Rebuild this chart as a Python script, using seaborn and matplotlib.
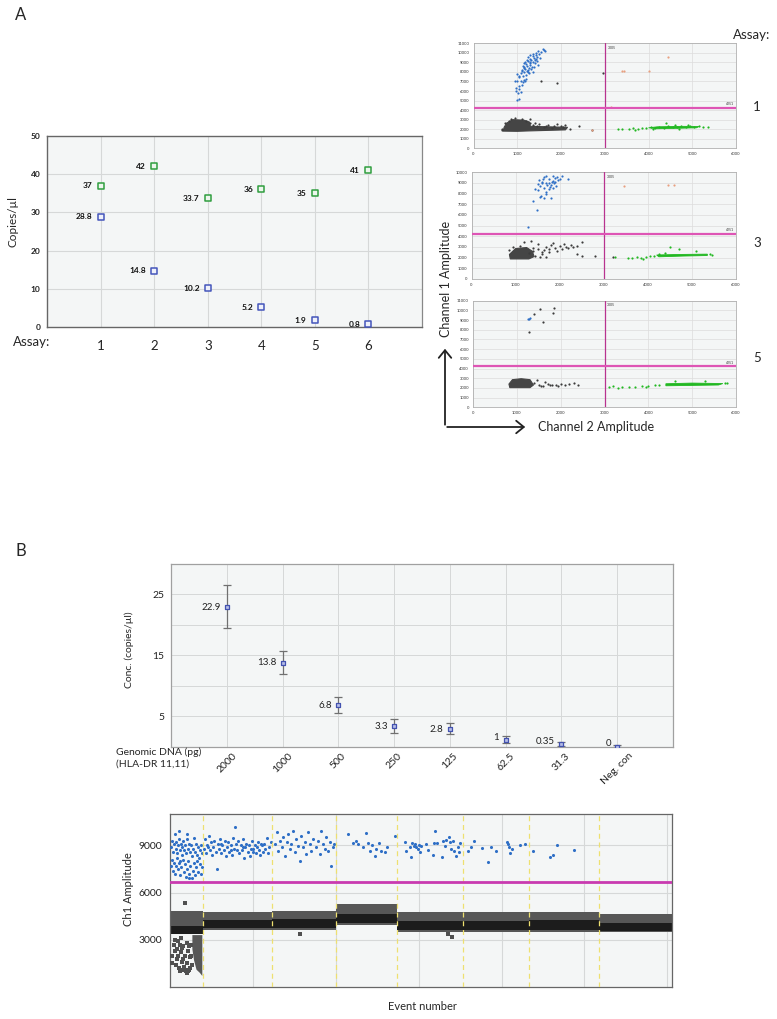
import numpy as np
import matplotlib
matplotlib.use("Agg")
import matplotlib.pyplot as plt
import seaborn as sns
from matplotlib import font_manager
from matplotlib.patches import FancyArrowPatch

W, H = 777, 1019

# ---------------- Panel A (left): copies per assay ----------------
assays = [1, 2, 3, 4, 5, 6]
ref_copies = [37, 42, 33.7, 36, 35, 41]
hla_copies = [28.8, 14.8, 10.2, 5.2, 1.9, 0.8]
ref_text = ["37", "42", "33.7", "36", "35", "41"]
hla_text = ["28.8", "14.8", "10.2", "5.2", "1.9", "0.8"]

# ---------------- Panel A (right): 2D droplet plots ----------------
a1_blue_ch2 = [1000, 1050, 1020, 1080, 980, 1050, 1100, 1000, 1080, 1150, 1030, 1120, 1200, 1080, 1150, 1230,
               1100, 1180, 1260, 1150, 1220, 1300, 1200, 1280, 1350, 1250, 1320, 1400, 1300, 1380, 1450, 1350,
               1430, 1500, 1420, 1550, 1600, 1480, 1250, 1180, 1320, 1200, 1120, 1260, 1400, 1150, 1050, 1350,
               1240, 1300, 950, 1000, 1120, 1300, 1380, 1450, 1520, 1580, 1640, 1180, 1050, 960, 1360, 1470,
               1250, 1330, 1150, 1420, 1220, 1100]
a1_blue_ch1 = [5100, 5200, 5800, 5900, 6300, 6500, 6600, 7000, 7100, 7200, 7500, 7600, 7700, 7900, 8000, 8100,
               8200, 8300, 8400, 8500, 8600, 8700, 8800, 8900, 9000, 9100, 9200, 9300, 9400, 9500, 9600, 9700,
               9800, 9900, 10000, 10100, 10300, 10200, 9600, 9000, 8300, 7300, 6900, 7900, 8900, 8900, 7600, 9900,
               8200, 9800, 7100, 7800, 8600, 9000, 8500, 9100, 9500, 10400, 10200, 7000, 6200, 6000, 8000, 8700,
               8000, 8500, 8400, 9400, 9300, 8100]
a1_core_ch2 = [680, 1000, 1250, 2100, 2150, 1300, 1280, 1150, 900, 760, 700]
a1_core_ch1 = [1800, 1780, 1820, 1930, 2200, 2300, 2750, 2950, 3000, 2650, 2200]
a1_gray_ch2 = [1500, 1700, 1900, 2100, 2400, 2700, 1400, 1600, 1800, 2000, 2200, 1550, 1900, 2950, 660, 1300,
               650, 720, 800, 950, 1100, 1300, 1350, 850, 1200, 1450, 1650, 1850, 2050]
a1_gray_ch1 = [2500, 2400, 2500, 2450, 2300, 1950, 2700, 2200, 2100, 2300, 2050, 7000, 6800, 7900, 2050, 3100,
               1950, 2700, 2900, 3150, 3050, 2600, 2450, 3100, 2900, 2350, 2300, 2350, 2250]
a1_gcore_ch2 = [4200, 4700, 5100, 5150, 4800, 4200, 4000]
a1_gcore_ch1 = [2050, 2100, 2150, 2280, 2300, 2250, 2150]
a1_green_ch2 = [3300, 3400, 3550, 3650, 3750, 3850, 3950, 4050, 4150, 4250, 4350, 4450, 4550, 4650, 4750, 4850,
                4950, 5050, 5150, 5250, 5350, 4400, 4600, 4700, 3700, 4100, 4900]
a1_green_ch1 = [2000, 2050, 2000, 2100, 2050, 2150, 2100, 2200, 2100, 2250, 2150, 2300, 2200, 2250, 2300, 2200,
                2300, 2250, 2300, 2250, 2250, 2700, 2400, 2000, 1950, 2000, 2400]
a1_odd_ch2 = [3400, 3450, 4000, 4450, 2700, 3150]
a1_odd_ch1 = [8150, 8150, 8100, 9600, 1900, 4300]

a3_blue_ch2 = [1500, 1550, 1600, 1650, 1700, 1750, 1800, 1850, 1900, 1950, 2000, 1580, 1680, 1780, 1880, 1620,
               1720, 1820, 1920, 1520, 1640, 1760, 1860, 1960, 1700, 1800, 1450, 1550, 1650, 1750, 1850, 1700,
               1900, 2050, 1600, 1400, 1500, 2185, 1492, 1281]
a3_blue_ch1 = [8300, 8700, 9100, 8500, 9000, 9400, 8800, 9200, 9500, 9600, 9400, 7800, 8200, 8600, 9000, 9400,
               8800, 9100, 8700, 9300, 9600, 8400, 8500, 9300, 9700, 7600, 8400, 7700, 7600, 9000, 9700, 8000,
               9100, 9700, 9000, 7300, 8900, 9375, 6470, 4906]
a3_core_ch2 = [880, 1300, 1420, 1380, 1250, 1000, 860]
a3_core_ch1 = [1880, 1880, 2100, 2600, 2950, 2850, 2300]
a3_gray_ch2 = [1300, 1400, 1500, 1600, 1700, 1800, 1900, 2000, 2100, 2200, 2300, 2400, 2500, 1500, 1650, 1750,
               1850, 1950, 2050, 2150, 2250, 1550, 1450, 1700, 2400, 2500, 2800, 3200, 1200, 1350, 850, 950,
               1100, 1400, 1600, 1750]
a3_gray_ch1 = [2400, 2600, 2800, 2300, 3000, 3200, 2900, 3100, 3300, 2900, 3000, 3100, 3500, 3300, 2700, 2500,
               3400, 2600, 2800, 3000, 3200, 2100, 2200, 2100, 2300, 2200, 2200, 2100, 3500, 3600, 2700, 3000,
               3100, 2900, 2500, 2800]
a3_gcore_ch2 = [4250, 4800, 5350, 5350, 4700, 4200]
a3_gcore_ch1 = [2080, 2150, 2200, 2330, 2300, 2250]
a3_green_ch2 = [3250, 3550, 3650, 3750, 3850, 3950, 4050, 4150, 4250, 3900, 4500, 4700, 5100, 5400, 5450, 4400]
a3_green_ch1 = [2100, 2000, 1950, 2050, 2000, 2100, 2150, 2200, 2300, 1900, 3000, 2800, 2600, 2300, 2250, 2400]
a3_odd_ch2 = [3450, 4450, 4600]
a3_odd_ch1 = [8750, 8850, 8850]

a5_blue_ch2 = [1250, 1290, 1270]
a5_blue_ch1 = [9150, 9200, 9100]
a5_core_ch2 = [840, 1300, 1380, 1300, 1100, 900, 820]
a5_core_ch1 = [2030, 2030, 2300, 2850, 2950, 2850, 2400]
a5_gray_ch2 = [1400, 1500, 1600, 1700, 1800, 1900, 2000, 2100, 2200, 2400, 1450, 1650, 1550, 1750, 1950, 2300,
               1394, 1530, 1606, 1833, 1848, 1288]
a5_gray_ch1 = [2500, 2300, 2200, 2400, 2300, 2350, 2400, 2300, 2450, 2350, 2800, 2600, 2150, 2250, 2200, 2500,
               9625, 10106, 8834, 9762, 10209, 7803]
a5_gcore_ch2 = [4400, 5000, 5600, 5700, 5000, 4400]
a5_gcore_ch1 = [2220, 2260, 2300, 2450, 2500, 2430]
a5_green_ch2 = [3100, 3200, 3400, 3550, 3700, 3850, 4000, 4150, 4250, 4600, 5300, 5800, 5750, 3300, 3950]
a5_green_ch1 = [2100, 2150, 2050, 2100, 2100, 2200, 2150, 2250, 2300, 2700, 2700, 2500, 2550, 2000, 2050]

# ---------------- Panel B (top): dilution series ----------------
dna_labels = ["2000", "1000", "500", "250", "125", "62.5", "31.3", "Neg. con"]
conc = [22.9, 13.8, 6.8, 3.3, 2.8, 1.0, 0.35, 0.0]
conc_lo = [19.4, 11.9, 5.5, 2.3, 2.0, 0.5, 0.1, 0.0]
conc_hi = [26.5, 15.7, 8.2, 4.5, 3.8, 1.7, 0.7, 0.25]
conc_text = ["22.9", "13.8", "6.8", "3.3", "2.8", "1", "0.35", "0"]

# ---------------- Panel B (bottom): 1D amplitude vs event ----------------
well_edges = [0, 2000, 6150, 10030, 13700, 17700, 21650, 25850, 30265]
band_lo = [3350, 3650, 3650, 3950, 3480, 3520, 3520, 3480]
band_hi = [4850, 4750, 4850, 5280, 4750, 4750, 4800, 4650]
core_lo = [3380, 3750, 3750, 4050, 3600, 3650, 3650, 3580]
core_hi = [3850, 4250, 4350, 4650, 4200, 4200, 4250, 4100]
tail_ev = [1350, 1950, 1950, 1800, 1600, 1450, 1350]
tail_amp = [3300, 3300, 700, 900, 1100, 1700, 2400]
low_ev = [100, 150, 250, 300, 400, 500, 550, 600, 650, 700, 750, 800, 850, 900, 950, 1000, 1050, 1100, 1150,
          1200, 1250, 1300, 1100, 900, 700, 450, 350, 600, 900, 7850, 16800, 17000, 1000, 1200, 800, 500,
          300, 1250, 1150, 650]
low_amp = [2000, 1500, 2700, 2300, 1800, 2900, 1200, 1000, 2200, 1600, 1100, 2600, 1300, 2000, 1000, 2800, 1500,
           2300, 1100, 1900, 2700, 1400, 1000, 1100, 2500, 2400, 1400, 2700, 5330, 3350, 3350, 3200, 900,
           1200, 1800, 2000, 3000, 2000, 2600, 3100]
pos_ev = [60, 120, 180, 230, 290, 340, 390, 440, 500, 550, 600, 640, 700, 750, 800, 850, 900, 960, 1010, 1060,
          1120, 1180, 1240, 1300, 1360, 1420, 1480, 1540, 1600, 1660, 1720, 1790, 1850, 1910, 520, 1000,
          80, 150, 210, 270, 330, 390, 450, 510, 570, 630, 690, 760, 820, 880, 950, 1020, 1090, 1160, 1230,
          1300, 1370, 1440, 1500, 1570, 1640, 1710, 1780, 1850, 1920, 1150, 600,
          2050, 2120, 2200, 2260, 2330, 2400, 2470, 2540, 2600, 2680, 2750, 2811, 2880, 2950, 3020, 3090, 3160,
          3230, 3300, 3370, 3440, 3510, 3580, 3650, 3720, 3790, 3860, 3916, 3980, 4050, 4120, 4190, 4260, 4330,
          4400, 4470, 4540, 4610, 4680, 4750, 4820, 4890, 4960, 5030, 5100, 5170, 5240, 5310, 5380, 5450, 5520,
          5600, 5680, 5760, 5840, 5920, 6000, 6080, 2300, 3100, 3700, 4400, 5000, 5500,
          6325, 6426, 6526, 6626, 6727, 6827, 6928, 7028, 7128, 7229, 7329, 7430, 7530, 7630, 7731, 7831, 7891,
          8032, 8132, 8233, 8333, 8434, 8534, 8634, 8795, 8936, 9036, 9136, 9237, 9337, 9438, 9538, 9638, 9739,
          9839, 9920,
          10743, 11044, 11205, 11345, 11646, 11847, 11948, 12088, 12208, 12349, 12450, 12610, 12751, 12952,
          13092, 13554,
          14156, 14257, 14458, 14558, 14618, 14698, 14759, 14859, 14960, 15020, 15100, 15160, 15462, 15562,
          15863, 15923, 16004, 16104, 16425, 16466, 16566, 16666, 16827, 16867, 16968, 17068, 17108, 17269,
          17369, 17429, 17510,
          17972, 18132, 18313, 18835, 19176, 19337, 19678, 20321, 20381, 20441, 20521, 20642, 21124, 21445,
          21887, 22951, 23092, 23333, 24397]
pos_amp = [8900, 9300, 8600, 9100, 9700, 8800, 9200, 8500, 9000, 9400, 8700, 9100, 8400, 8900, 9300, 8700, 9000,
           8500, 9400, 8800, 9100, 8600, 9000, 8300, 8800, 9500, 8600, 9100, 8400, 8900, 8200, 8700, 9000, 8500,
           9900, 9700,
           7700, 8100, 7400, 7900, 7200, 7700, 8200, 7500, 7900, 7100, 7600, 8100, 7300, 7800, 7000, 7500, 8000,
           7200, 7700, 6900, 7400, 7900, 7100, 7600, 8000, 7300, 7800, 7200, 7600, 6900, 8000,
           8800, 9400, 8500, 9000, 9600, 8700, 9200, 8400, 8900, 9300, 8600, 7500, 9100, 8800, 9400, 8500, 9000,
           8700, 9300, 8300, 8900, 9200, 8600, 9000, 8400, 9500, 8800, 10200, 9100, 8700, 9300, 8500, 9000, 8700,
           9400, 8200, 8900, 9100, 8600, 9000, 8300, 8800, 9300, 8600, 9000, 8500, 8900, 9200, 8700, 8400, 9000,
           8600, 9100, 8800, 9500, 8500, 8900, 9200, 8900, 9100, 8700, 8900, 8800, 9100,
           9101, 9843, 8677, 9313, 8889, 9525, 8359, 9207, 9737, 8783, 9101, 9949, 8571, 9419, 8995, 8042, 9631,
           8889, 9207, 8465, 9843, 9101, 8677, 9419, 8931, 9313, 8465, 9949, 9101, 8783, 9525, 8677, 9207, 7724,
           8889, 9101,
           9737, 9143, 9270, 9101, 8889, 9801, 9143, 8677, 9037, 8359, 8783, 9143, 8677, 8571, 8889, 9631,
           9207, 8677, 8889, 8253, 9143, 8995, 9101, 8889, 8783, 9059, 8571, 8995, 9101, 8720, 8423, 9143,
           9949, 9143, 8253, 9313, 8995, 9355, 9525, 9207, 8783, 9313, 8677, 8359, 8889, 8571, 9165,
           8677, 8889, 9270, 8825, 7978, 8931, 8635, 9207, 9101, 8889, 8508, 8762, 9059, 9101,
           8677, 8296, 8402, 9037, 8720]
well_breaks = [2000, 6150, 10030, 13700, 17700, 21650, 25850]
threshold_1d = 6650

# ---------------- fonts ----------------
sns.set_style("white")
names = {f.name for f in font_manager.fontManager.ttflist}
MAIN = "Lato" if "Lato" in names else "DejaVu Sans"
NARROW = "Liberation Sans Narrow" if "Liberation Sans Narrow" in names else MAIN
plt.rcParams["font.family"] = [MAIN, "DejaVu Sans"]
plt.rcParams["axes.unicode_minus"] = False

BG = "#f4f6f6"
GRID = "#d6d8d8"
BLUE_D = "#2f6fc6"
GREEN_D = "#22b822"
GRAY_D = "#3c3c3c"


def rect(l, t, r, b):
    return [l / W, 1 - b / H, (r - l) / W, (b - t) / H]


def fx(x):
    return x / W


def fy(y):
    return 1 - y / H


fig = plt.figure(figsize=(W / 100, H / 100), dpi=100)
fig.patch.set_facecolor("white")

# ================= Panel A left =================
axA = fig.add_axes(rect(47.3, 135.7, 422, 327.3))
axA.set_facecolor(BG)
axA.set_xlim(0, 7)
axA.set_ylim(0, 50)
for v in range(1, 7):
    axA.axvline(v, color=GRID, lw=0.8, zorder=0)
for v in range(10, 50, 10):
    axA.axhline(v, color=GRID, lw=0.8, zorder=0)
sns.scatterplot(x=assays, y=ref_copies, ax=axA, marker="s", s=16, color="#edf6ed",
                edgecolor="#2f9e3f", linewidth=1.1, zorder=3)
sns.scatterplot(x=assays, y=hla_copies, ax=axA, marker="s", s=16, color="#eef0fa",
                edgecolor="#4455bb", linewidth=1.1, zorder=3)
for x, y, t in zip(assays, ref_copies, ref_text):
    axA.annotate(t, (x, y), xytext=(-6, 0), textcoords="offset points", ha="right", va="center",
                 fontsize=6, family=NARROW, weight="bold", color="#111111")
for x, y, t in zip(assays, hla_copies, hla_text):
    axA.annotate(t, (x, y), xytext=(-6, 0), textcoords="offset points", ha="right", va="center",
                 fontsize=6, family=NARROW, weight="bold", color="#111111")
axA.set_xticks(range(0, 8))
axA.set_xticklabels([""] + [str(a) for a in assays] + [""], fontsize=9.5)
axA.set_yticks(range(0, 51, 10))
axA.set_yticklabels([str(v) for v in range(0, 51, 10)], fontsize=6, family=NARROW, weight="bold")
axA.tick_params(axis="x", length=3, width=0.8, pad=6, colors="#444444", labelcolor="#222222")
axA.tick_params(axis="y", length=3, width=0.8, pad=2, colors="#444444", labelcolor="#222222")
for side in ["left", "bottom", "top"]:
    axA.spines[side].set_color("#666666")
    axA.spines[side].set_linewidth(1.0)
axA.spines["right"].set_color("#888888")
axA.spines["right"].set_linewidth(0.9)
axA.set_xlabel("")
axA.set_ylabel("")

fig.text(fx(21), fy(15), "A", fontsize=12, ha="center", va="center")
fig.text(fx(13), fy(222), "Copies/µl", rotation=90, ha="center", va="center", fontsize=8.5)
fig.text(fx(12.7), fy(342), "Assay:", ha="left", va="center", fontsize=9.5)

# ================= Panel A right: droplet 2D plots =================
def droplet_axes(box, ymax, blue, core, gray, gcore, green, odd):
    ax = fig.add_axes(rect(*box))
    ax.set_facecolor(BG)
    ax.set_xlim(0, 6000)
    ax.set_ylim(0, ymax)
    ax.set_xticks(range(0, 6001, 1000))
    ax.set_yticks(range(0, ymax + 1, 1000))
    ax.set_xticklabels([str(v) for v in range(0, 6001, 1000)], fontsize=3)
    ax.set_yticklabels([str(v) for v in range(0, ymax + 1, 1000)], fontsize=3)
    ax.tick_params(length=1.5, width=0.4, pad=1.5, colors="#999999", labelcolor="#333333")
    ax.grid(True, color="#dcdcdc", lw=0.5)
    ax.set_axisbelow(True)
    for s in ax.spines.values():
        s.set_color("#b0b0b0")
        s.set_linewidth(0.6)
    ax.fill(core[0], core[1], color="#454545", lw=0.8, zorder=2)
    ax.fill(gcore[0], gcore[1], color=GREEN_D, lw=0.6, zorder=2)
    sns.scatterplot(x=gray[0], y=gray[1], ax=ax, s=2.5, color=GRAY_D, linewidth=0, zorder=3)
    sns.scatterplot(x=green[0], y=green[1], ax=ax, s=2.5, color=GREEN_D, linewidth=0, zorder=3)
    sns.scatterplot(x=blue[0], y=blue[1], ax=ax, s=2.5, color=BLUE_D, linewidth=0, zorder=3)
    if odd is not None:
        sns.scatterplot(x=odd[0], y=odd[1], ax=ax, s=2.5, color="#e8a080", linewidth=0, zorder=3)
    ax.axvline(3005, color="#b8338f", lw=0.9, zorder=4)
    ax.axhline(4251, color="#de55b5", lw=1.6, zorder=4)
    ax.text(3060, ymax * 0.975, "3005", fontsize=2.5, va="top", ha="left", color="#333333")
    ax.text(5960, 4251 + ymax * 0.015, "4251", fontsize=2.5, va="bottom", ha="right", color="#333333")
    ax.set_xlabel("")
    ax.set_ylabel("")
    return ax


droplet_axes((473.5, 43.3, 736, 148.3), 11000, (a1_blue_ch2, a1_blue_ch1), (a1_core_ch2, a1_core_ch1),
             (a1_gray_ch2, a1_gray_ch1), (a1_gcore_ch2, a1_gcore_ch1), (a1_green_ch2, a1_green_ch1),
             (a1_odd_ch2, a1_odd_ch1))
droplet_axes((471.5, 172.3, 736, 279), 10000, (a3_blue_ch2, a3_blue_ch1), (a3_core_ch2, a3_core_ch1),
             (a3_gray_ch2, a3_gray_ch1), (a3_gcore_ch2, a3_gcore_ch1), (a3_green_ch2, a3_green_ch1),
             (a3_odd_ch2, a3_odd_ch1))
droplet_axes((473, 300.7, 736, 407.3), 11000, (a5_blue_ch2, a5_blue_ch1), (a5_core_ch2, a5_core_ch1),
             (a5_gray_ch2, a5_gray_ch1), (a5_gcore_ch2, a5_gcore_ch1), (a5_green_ch2, a5_green_ch1), None)

fig.text(fx(752), fy(35), "Assay:", ha="center", va="center", fontsize=9.5)
fig.text(fx(757), fy(107), "1", ha="center", va="center", fontsize=9.5)
fig.text(fx(757), fy(243), "3", ha="center", va="center", fontsize=9.5)
fig.text(fx(757), fy(358), "5", ha="center", va="center", fontsize=9.5)
fig.text(fx(446), fy(279), "Channel 1 Amplitude", rotation=90, ha="center", va="center", fontsize=9)
fig.text(fx(596), fy(427), "Channel 2 Amplitude", ha="center", va="center", fontsize=9)
for (x0, y0, x1, y1) in [(445, 427.5, 445, 346), (444.4, 427, 528, 427)]:
    fig.add_artist(FancyArrowPatch((fx(x0), fy(y0)), (fx(x1), fy(y1)), transform=fig.transFigure,
                                   arrowstyle="->,head_length=0.55,head_width=0.45", mutation_scale=10,
                                   lw=1.3, color="#222222"))

# ================= Panel B top =================
axB = fig.add_axes(rect(171, 564, 673, 746.5))
axB.set_facecolor(BG)
pos = np.arange(1, len(conc) + 1)
axB.set_xlim(0, 9)
axB.set_ylim(0, 30)
for v in pos:
    axB.axvline(v, color=GRID, lw=0.7, zorder=0)
for v in range(5, 30, 5):
    axB.axhline(v, color=GRID, lw=0.7, zorder=0)
c = np.array(conc)
axB.errorbar(pos, c, yerr=[c - np.array(conc_lo), np.array(conc_hi) - c], fmt="none",
             ecolor="#707070", elinewidth=0.9, capsize=3, capthick=0.9, zorder=2)
sns.scatterplot(x=pos, y=conc, ax=axB, marker="s", s=11, color="#b6bde6", edgecolor="#4352b0",
                linewidth=0.9, zorder=4)
for x, y, t in zip(pos, conc, conc_text):
    axB.annotate(t, (x, y), xytext=(-4.5, 0), textcoords="offset points", ha="right",
                 va="center" if y >= 1.5 else "baseline", fontsize=7, color="#222222")
axB.set_xticks(range(0, 10))
axB.set_xticklabels([""] + dna_labels + [""], rotation=45, ha="center", va="top", fontsize=7.5)
axB.set_yticks([5, 15, 25])
axB.set_yticklabels(["5", "15", "25"], fontsize=7.5)
axB.tick_params(axis="x", length=3, width=0.7, pad=0.5, colors="#888888", labelcolor="#222222")
axB.tick_params(axis="y", length=3, width=0.7, pad=2, colors="#888888", labelcolor="#222222")
for s in axB.spines.values():
    s.set_color("#a0a0a0")
    s.set_linewidth(0.9)
axB.set_xlabel("")
axB.set_ylabel("")
fig.text(fx(21), fy(551), "B", fontsize=12, ha="center", va="center")
fig.text(fx(129), fy(650), "Conc. (copies/µl)", rotation=90, ha="center", va="center", fontsize=7.5)
fig.text(fx(116), fy(752), "Genomic DNA (pg)", ha="left", va="center", fontsize=7.5)
fig.text(fx(116), fy(764), "(HLA-DR 11,11)", ha="left", va="center", fontsize=7.5)

# ================= Panel B bottom =================
axC = fig.add_axes(rect(170, 814, 671.7, 987))
axC.set_facecolor(BG)
axC.set_xlim(0, well_edges[-1])
axC.set_ylim(0, 11000)
for v in range(5000, 30001, 5000):
    axC.axvline(v, color=GRID, lw=0.8, zorder=0)
for v in [3000, 6000, 9000]:
    axC.axhline(v, color=GRID, lw=0.8, zorder=0)
for i in range(len(band_lo)):
    e0, e1 = well_edges[i], well_edges[i + 1]
    axC.fill_between([e0, e1], [band_lo[i]] * 2, [band_hi[i]] * 2, color="#575757", lw=0, zorder=2)
    axC.fill_between([e0, e1], [core_lo[i]] * 2, [core_hi[i]] * 2, color="#1c1c1c", lw=0, zorder=2)
axC.fill(tail_ev, tail_amp, color="#575757", lw=0, zorder=2)
sns.scatterplot(x=low_ev, y=low_amp, ax=axC, s=7, color="#505050", linewidth=0, marker="s", zorder=3)
sns.scatterplot(x=pos_ev, y=pos_amp, ax=axC, s=5, color=BLUE_D, linewidth=0, zorder=3)
for e in well_breaks:
    axC.axvline(e, color="#eee070", lw=0.9, ls=(0, (4, 3)), zorder=4)
axC.axhline(threshold_1d, color="#c93ab0", lw=2.0, zorder=4)
axC.set_xticks(range(0, 30001, 5000))
axC.set_xticklabels([])
axC.set_yticks([0, 3000, 6000, 9000])
axC.set_yticklabels(["", "3000", "6000", "9000"], fontsize=7.5)
axC.tick_params(axis="x", length=4.5, width=0.8, colors="#444444")
axC.tick_params(axis="y", length=3.5, width=0.8, pad=2, colors="#444444", labelcolor="#222222")
for s in axC.spines.values():
    s.set_color("#666666")
    s.set_linewidth(0.9)
axC.set_xlabel("")
axC.set_ylabel("")
fig.text(fx(128), fy(889), "Ch1 Amplitude", rotation=90, ha="center", va="center", fontsize=8)
fig.text(fx(422), fy(1006), "Event number", ha="center", va="center", fontsize=8)

fig.savefig("out.png", dpi=100)
